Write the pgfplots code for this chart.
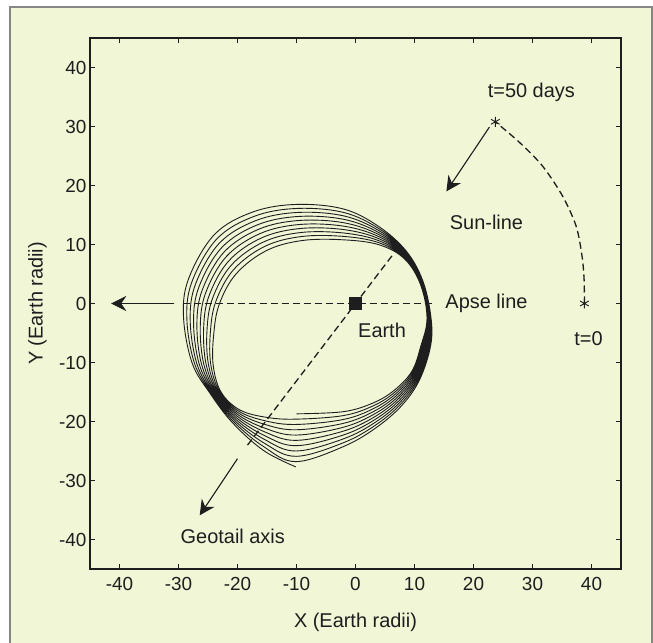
\documentclass[border=0pt]{standalone}
\usepackage{pgfplots}
\pgfplotsset{compat=1.18}
\usepackage{fontspec}
\setmainfont{Liberation Sans}
\usetikzlibrary{arrows.meta}
\definecolor{panelbg}{RGB}{240,246,214}
\definecolor{framegray}{RGB}{135,135,135}
\definecolor{ink}{RGB}{30,30,30}
\begin{document}
\begin{tikzpicture}
\path[use as bounding box] (0,0) rectangle (653bp,643bp);
\fill[white] (0,0) rectangle (653bp,643bp);
\fill[panelbg] (10bp,0) rectangle (652bp,636bp);
\draw[framegray, line width=1.3bp] (10bp,0) -- (10bp,636bp) -- (652bp,636bp) -- (652bp,0);
\begin{axis}[
  at={(90bp,74bp)}, anchor=south west,
  scale only axis, width=531bp, height=531bp,
  xmin=-45, xmax=45, ymin=-45, ymax=45,
  xtick={-40,-30,...,40}, ytick={-40,-30,...,40},
  tick align=inside, tick pos=both, major tick length=5bp,
  axis line style={line width=1.3bp, color=ink},
  tick style={line width=0.8bp, color=ink},
  ticklabel style={font=\fontsize{19}{22}\selectfont, text=ink},
  xticklabel style={yshift=-4.5bp},
  /pgf/number format/assume math mode=true,
  clip=false,
]
% orbit spiral (10 loops)
\addplot[ink, line width=0.9bp, smooth, tension=0.6] coordinates {
(-10.0,-18.7) (-2.0,-18.33) (3.0,-16.85) (6.52,-14.74) (9.53,-11.53) (11.05,-7.29) (12.12,-2.49) (11.01,3.23) (8.31,7.56) (4.0,9.95) (-2.0,10.79) (-9.06,10.67) (-15.15,8.94) (-20.26,4.99) (-23.1,-0.15) (-24.03,-5.24) (-24.12,-10.46) (-22.78,-15.02) (-19.62,-18.03) (-15.05,-19.3)
(-10.01,-19.6) (-2.01,-18.99) (3.05,-17.32) (6.67,-15.02) (9.68,-11.68) (11.24,-7.26) (12.19,-2.44) (11.05,3.31) (8.34,7.71) (4.0,10.29) (-2.0,11.37) (-9.17,11.35) (-15.4,9.67) (-20.66,5.74) (-23.67,0.35) (-24.6,-4.89) (-24.52,-10.41) (-22.99,-15.04) (-19.75,-18.28) (-15.1,-19.93)
(-10.02,-20.5) (-2.02,-19.65) (3.1,-17.79) (6.82,-15.3) (9.83,-11.83) (11.43,-7.23) (12.26,-2.39) (11.09,3.39) (8.37,7.86) (4.0,10.63) (-2.0,11.95) (-9.28,12.03) (-15.65,10.4) (-21.06,6.49) (-24.24,0.85) (-25.17,-4.54) (-24.92,-10.36) (-23.2,-15.06) (-19.88,-18.53) (-15.15,-20.56)
(-10.03,-21.4) (-2.03,-20.31) (3.15,-18.26) (6.97,-15.58) (9.98,-11.98) (11.62,-7.2) (12.33,-2.34) (11.13,3.47) (8.4,8.01) (4.0,10.97) (-2.0,12.53) (-9.39,12.71) (-15.9,11.13) (-21.46,7.24) (-24.81,1.35) (-25.74,-4.19) (-25.32,-10.31) (-23.41,-15.08) (-20.01,-18.78) (-15.2,-21.19)
(-10.04,-22.3) (-2.04,-20.97) (3.2,-18.73) (7.12,-15.86) (10.13,-12.13) (11.81,-7.17) (12.4,-2.29) (11.17,3.55) (8.43,8.16) (4.0,11.31) (-2.0,13.11) (-9.5,13.39) (-16.15,11.86) (-21.86,7.99) (-25.38,1.85) (-26.31,-3.84) (-25.72,-10.26) (-23.62,-15.1) (-20.14,-19.03) (-15.25,-21.82)
(-10.05,-23.2) (-2.05,-21.63) (3.25,-19.2) (7.27,-16.14) (10.28,-12.28) (12.0,-7.14) (12.47,-2.24) (11.21,3.63) (8.46,8.31) (4.0,11.65) (-2.0,13.69) (-9.61,14.07) (-16.4,12.59) (-22.26,8.74) (-25.95,2.35) (-26.88,-3.49) (-26.12,-10.21) (-23.83,-15.12) (-20.27,-19.28) (-15.3,-22.45)
(-10.06,-24.1) (-2.06,-22.29) (3.3,-19.67) (7.42,-16.42) (10.43,-12.43) (12.19,-7.11) (12.54,-2.19) (11.25,3.71) (8.49,8.46) (4.0,11.99) (-2.0,14.27) (-9.72,14.75) (-16.65,13.32) (-22.66,9.49) (-26.52,2.85) (-27.45,-3.14) (-26.52,-10.16) (-24.04,-15.14) (-20.4,-19.53) (-15.35,-23.08)
(-10.07,-25.0) (-2.07,-22.95) (3.35,-20.14) (7.57,-16.7) (10.58,-12.58) (12.38,-7.08) (12.61,-2.14) (11.29,3.79) (8.52,8.61) (4.0,12.33) (-2.0,14.85) (-9.83,15.43) (-16.9,14.05) (-23.06,10.24) (-27.09,3.35) (-28.02,-2.79) (-26.92,-10.11) (-24.25,-15.16) (-20.53,-19.78) (-15.4,-23.71)
(-10.08,-25.9) (-2.08,-23.61) (3.4,-20.61) (7.72,-16.98) (10.73,-12.73) (12.57,-7.05) (12.68,-2.09) (11.33,3.87) (8.55,8.76) (4.0,12.67) (-2.0,15.43) (-9.94,16.11) (-17.15,14.78) (-23.46,10.99) (-27.66,3.85) (-28.59,-2.44) (-27.32,-10.06) (-24.46,-15.18) (-20.66,-20.03) (-15.45,-24.34)
(-10.09,-26.8) (-2.09,-24.27) (3.45,-21.08) (7.87,-17.26) (10.88,-12.88) (12.76,-7.02) (12.75,-2.04) (11.37,3.95) (8.58,8.91) (4.0,13.01) (-2.0,16.01) (-10.05,16.79) (-17.4,15.51) (-23.86,11.74) (-28.23,4.35) (-29.16,-2.09) (-27.72,-10.01) (-24.67,-15.2) (-20.79,-20.28) (-15.5,-24.97)
(-10.1,-27.7)
};
% apse line (dashed)
\addplot[ink, line width=1.3bp, dash pattern=on 7bp off 4bp] coordinates {(-29.3,0) (12.9,0)};
% apse arrow
\addplot[ink, line width=1.1bp, -{Stealth[length=15bp,width=15bp,inset=5bp]}] coordinates {(-30.7,0) (-41.4,0)};
% geotail axis (dashed)
\addplot[ink, line width=1.3bp, dash pattern=on 7bp off 4bp] coordinates {(-18.3,-24.0) (6.5,8.5)};
% geotail arrow
\addplot[ink, line width=1.1bp, -{Stealth[length=15bp,width=15bp,inset=5bp]}] coordinates {(-20.0,-26.3) (-26.4,-35.9)};
% sun direction path (dashed)
\addplot[ink, line width=1.3bp, dash pattern=on 7bp off 4bp, smooth] coordinates {
(38.8,0) (38.75,4.0) (38.4,8.0) (37.4,13.1) (35.1,18.2) (31.7,23.3) (27.8,27.3) (23.7,30.8)};
% sun-line arrow
\addplot[ink, line width=1.1bp, -{Stealth[length=15bp,width=15bp,inset=5bp]}] coordinates {(22.7,29.9) (15.4,19.0)};
% star markers t=0, t=50 days
\addplot[only marks, mark=asterisk, mark size=5bp, ink, line width=0.9bp] coordinates {(38.8,0) (23.7,30.8)};
% Earth
\addplot[only marks, mark=square*, mark size=6bp, ink] coordinates {(0,0)};
% annotations
\begin{scope}[font=\fontsize{20}{24}\selectfont, text=ink]
\node at (axis cs:29.8,35.8) {t=50 days};
\node at (axis cs:22.2,13.8) {Sun-line};
\node at (axis cs:22.2,0) {Apse line};
\node at (axis cs:39.5,-6.0) {t=0};
\node at (axis cs:4.5,-4.6) {Earth};
\node at (axis cs:-20.8,-39.5) {Geotail axis};
\node at (axis cs:0,-54.0) {X (Earth radii)};
\node[rotate=90] at (axis cs:-53.9,0) {Y (Earth radii)};
\end{scope}
\end{axis}
\end{tikzpicture}
\end{document}
